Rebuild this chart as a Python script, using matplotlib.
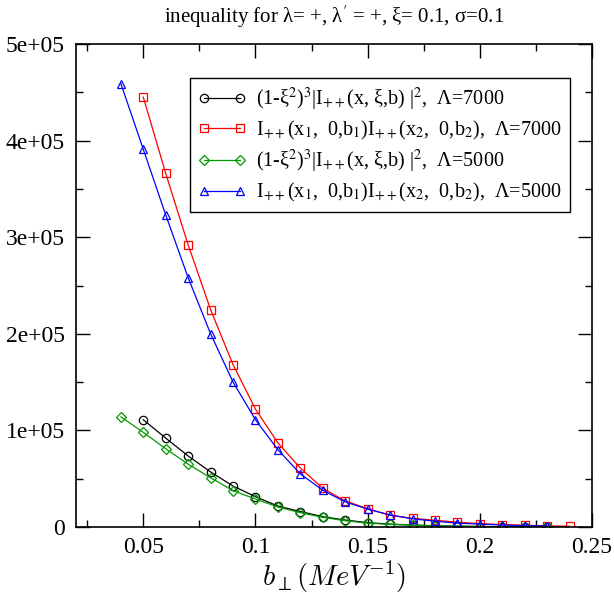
import matplotlib
matplotlib.use("Agg")
import matplotlib.pyplot as plt
import numpy as np
from matplotlib.ticker import MultipleLocator

# ---- data ----
x_a7 = [0.05, 0.06, 0.07, 0.08, 0.09, 0.10, 0.11, 0.12, 0.13, 0.14, 0.15, 0.16,
        0.17, 0.18, 0.19, 0.20, 0.21, 0.22, 0.23]
y_a7 = [1.11e5, 0.92e5, 0.735e5, 0.57e5, 0.424e5, 0.314e5, 0.217e5, 0.16e5, 0.107e5,
        0.072e5, 0.045e5, 0.03e5, 0.02e5, 0.013e5, 0.008e5, 0.005e5, 0.003e5, 0.002e5, 0.001e5]

x_b7 = [0.05, 0.06, 0.07, 0.08, 0.09, 0.10, 0.11, 0.12, 0.13, 0.14, 0.15, 0.16,
        0.17, 0.18, 0.19, 0.20, 0.21, 0.22, 0.23, 0.24]
y_b7 = [4.45e5, 3.66e5, 2.92e5, 2.25e5, 1.68e5, 1.22e5, 0.87e5, 0.61e5, 0.40e5, 0.27e5,
        0.19e5, 0.12e5, 0.09e5, 0.07e5, 0.05e5, 0.035e5, 0.025e5, 0.018e5, 0.012e5, 0.008e5]

x_a5 = [0.04, 0.05, 0.06, 0.07, 0.08, 0.09, 0.10, 0.11, 0.12, 0.13, 0.14, 0.15,
        0.16, 0.17, 0.18, 0.19, 0.20, 0.21, 0.22, 0.23]
y_a5 = [1.14e5, 0.98e5, 0.81e5, 0.65e5, 0.51e5, 0.376e5, 0.29e5, 0.207e5, 0.148e5, 0.10e5,
        0.065e5, 0.04e5, 0.027e5, 0.018e5, 0.012e5, 0.008e5, 0.005e5, 0.003e5, 0.002e5, 0.001e5]

x_b5 = [0.04, 0.05, 0.06, 0.07, 0.08, 0.09, 0.10, 0.11, 0.12, 0.13, 0.14, 0.15,
        0.16, 0.17, 0.18, 0.19, 0.20, 0.21, 0.22, 0.23]
y_b5 = [4.59e5, 3.91e5, 3.23e5, 2.58e5, 2.00e5, 1.50e5, 1.11e5, 0.80e5, 0.55e5, 0.38e5,
        0.26e5, 0.185e5, 0.125e5, 0.085e5, 0.06e5, 0.04e5, 0.03e5, 0.02e5, 0.014e5, 0.01e5]

labels = [
    r"(1-ξ$^2$)$^3$|I$_{++}$(x, ξ,b) |$^2$,  Λ=7000",
    r"I$_{++}$(x$_1$,  0,b$_1$)I$_{++}$(x$_2$,  0,b$_2$),  Λ=7000",
    r"(1-ξ$^2$)$^3$|I$_{++}$(x, ξ,b) |$^2$,  Λ=5000",
    r"I$_{++}$(x$_1$,  0,b$_1$)I$_{++}$(x$_2$,  0,b$_2$),  Λ=5000",
]

xticks = [0.05, 0.10, 0.15, 0.20, 0.25]
xticklabels = ["0.05", "0.1", "0.15", "0.2", "0.25"]
yticks = [0, 1e5, 2e5, 3e5, 4e5, 5e5]
yticklabels = ["0", "1e+05", "2e+05", "3e+05", "4e+05", "5e+05"]

title = r"inequality for λ= +, λ$^{\prime}$ = +, ξ= 0.1, σ=0.1"
xlabel = r"$b_{\perp}(MeV^{-1})$"

# ---- plot ----
plt.rcParams['font.family'] = ['Liberation Serif', 'DejaVu Serif']
plt.rcParams['mathtext.fontset'] = 'stix'

fig = plt.figure(figsize=(6.14, 5.96), dpi=100)
ax = fig.add_axes([76/614, 1-527/596, (592-76)/614, (527-44)/596])

ms = 6.0
lw = 0.9
ax.plot(x_a7, y_a7, color='black', marker='o', mfc='none', ms=ms, lw=lw, mew=0.9, label=labels[0])
ax.plot(x_b7, y_b7, color='red', marker='s', mfc='none', ms=ms, lw=lw, mew=0.9, label=labels[1])
ax.plot(x_a5, y_a5, color='#009900', marker='D', mfc='none', ms=ms*0.8, lw=lw, mew=0.9, label=labels[2])
ax.plot(x_b5, y_b5, color='blue', marker='^', mfc='none', ms=ms, lw=lw, mew=0.9, label=labels[3])

ax.set_xlim(0.02, 0.25)
ax.set_ylim(0, 5e5)
ax.set_xticks(xticks)
ax.set_xticklabels(xticklabels)
ax.set_yticks(yticks)
ax.set_yticklabels(yticklabels)
ax.xaxis.set_minor_locator(MultipleLocator(0.025))
ax.yaxis.set_minor_locator(MultipleLocator(0.5e5))
ax.tick_params(which='both', direction='in', top=True, right=True, labelsize=17, width=1)
ax.tick_params(which='major', length=10)
ax.tick_params(which='minor', length=5)
ax.tick_params(axis='x', pad=7)
ax.tick_params(axis='y', pad=8)
for s in ax.spines.values():
    s.set_linewidth(1.2)

ax.set_xlabel(xlabel, fontsize=20.5, math_fontfamily='cm', labelpad=1)
fig.text(334/614, 1-17/596, title, ha='center', va='center', fontsize=15)

leg = ax.legend(loc='upper right', bbox_to_anchor=(0.957, 0.93), fontsize=14.5,
                numpoints=2, handlelength=2.4, fancybox=False, framealpha=1,
                edgecolor='black', borderaxespad=0, labelspacing=0.3,
                handletextpad=0.5, borderpad=0.4)
leg.get_frame().set_linewidth(1.0)

fig.savefig("out.png", dpi=100)
